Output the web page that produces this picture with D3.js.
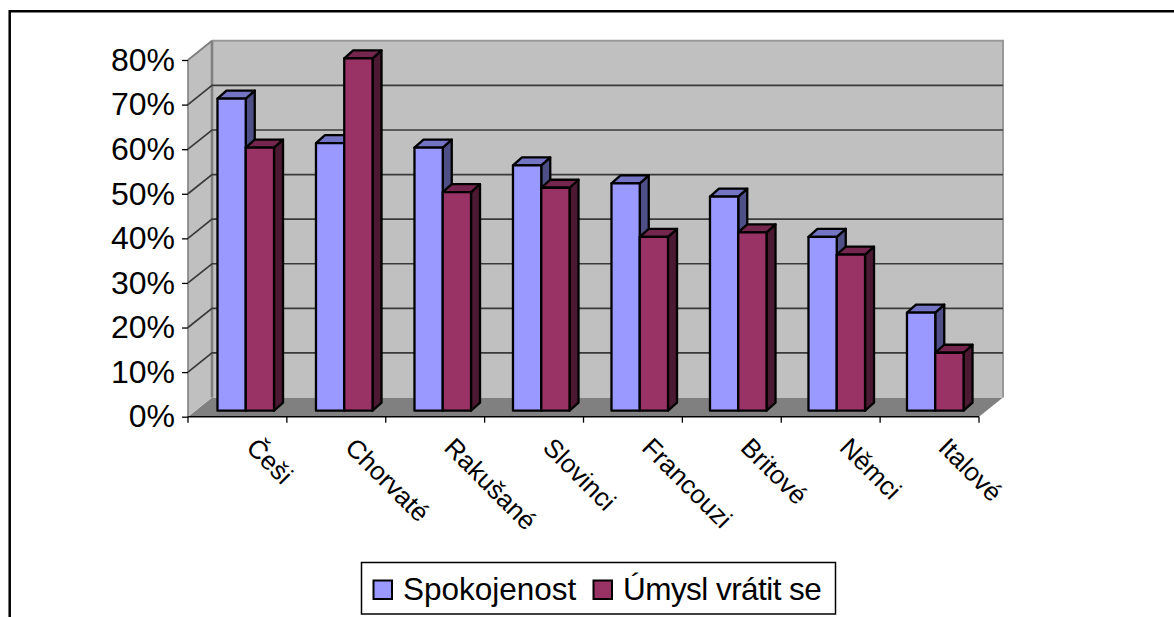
<!DOCTYPE html>
<html>
<head>
<meta charset="utf-8">
<script src="https://cdn.jsdelivr.net/npm/d3@7"></script>
<style>
  html, body { margin: 0; padding: 0; background: #fff; overflow: hidden; }
  svg { display: block; }
  text { font-family: "Liberation Sans", Arial, sans-serif; fill: #000; }
</style>
</head>
<body>
<script>
const categories = ["Češi", "Chorvaté", "Rakušané", "Slovinci", "Francouzi", "Britové", "Němci", "Italové"];
const spokojenost = [70, 60, 59, 55, 51, 48, 39, 22];
const umysl = [59, 79, 49, 50, 39, 40, 35, 13];
const seriesNames = ["Spokojenost", "Úmysl vrátit se"];
const seriesColors = ["#9999ff", "#993366"];
const seriesTops = ["#7474c4", "#74264e"];
const seriesSides = ["#4f4f87", "#4c1933"];
const yTicks = [0, 10, 20, 30, 40, 50, 60, 70, 80];

const W = 1174, H = 617;
const svg = d3.select("body").append("svg").attr("width", W).attr("height", H);

// Frame around the chart area: open on the right and at the bottom
svg.append("path")
  .attr("d", d3.line()([[9.7, H], [9.7, 11.2], [W, 11.2]]))
  .attr("fill", "none").attr("stroke", "#000").attr("stroke-width", 2.5);

// Scales for the front plane and the offset of the back wall
const y = d3.scaleLinear().domain([0, 80]).range([416.7, 60]);
const depth = { dx: 24, dy: -19.2 };
const xAxis = d3.scaleBand().domain(categories).range([188, 979]);

const back = v => y(v) + depth.dy;
const pts = a => a.map(p => p.join(",")).join(" ");

const x0 = xAxis.range()[0], x1 = xAxis.range()[1];
const bx0 = x0 + depth.dx, bx1 = x1 + depth.dx;

// Floor and walls
svg.append("polygon").attr("fill", "#808080")
  .attr("points", pts([[x0, y(0)], [bx0, back(0)], [bx1, back(0)], [x1, y(0)]]));
svg.append("polygon").attr("fill", "#c0c0c0")
  .attr("points", pts([[bx0, back(80)], [bx1, back(80)], [bx1, back(0)], [bx0, back(0)]]));
svg.append("polygon").attr("fill", "#c0c0c0")
  .attr("points", pts([[x0, y(80)], [bx0, back(80)], [bx0, back(0)], [x0, y(0)]]));

// Wall edges
const edge = svg.append("g").attr("fill", "none").attr("stroke", "#808080").attr("stroke-width", 2);
edge.append("path").attr("d", d3.line()([[x0, y(80)], [bx0, back(80)]]));
edge.append("path").attr("d", d3.line()([[bx0, back(80)], [bx1, back(80)], [bx1, back(0)]])).attr("stroke", "#999");
edge.append("path").attr("d", d3.line()([[bx0, back(80)], [bx0, back(0)]])).attr("stroke-width", 2.6);
edge.append("path").attr("d", d3.line()([[x0, y(80)], [x0, y(0)]])).attr("stroke-width", 1.6);

// Gridlines on the side and back walls
svg.append("g").selectAll("path").data(yTicks.filter(t => t > 0 && t < 80)).join("path")
  .attr("d", t => d3.line()([[x0, y(t)], [bx0, back(t)], [bx1, back(t)]]))
  .attr("fill", "none").attr("stroke", "#3a3a3a").attr("stroke-width", 1.7);

// Bars are drawn on a plane set slightly behind the front edge
const barOffset = { dx: 7.5, dy: -6 };
const band = d3.scaleBand().domain(categories).range([196.5, 984.5]).paddingInner(0.426).paddingOuter(0.213);
const inner = d3.scaleBand().domain([0, 1]).range([0, band.bandwidth()]);
const barDepth = { dx: 9, dy: -8 };

[spokojenost, umysl].forEach((values, s) => {
  const g = svg.append("g").attr("stroke", "#000").attr("stroke-width", 2.3).attr("stroke-linejoin", "round");
  categories.forEach((c, i) => {
    const left = band(c) + inner(s), right = left + inner.bandwidth();
    const top = y(values[i]) + barOffset.dy, bottom = y(0) + barOffset.dy;
    g.append("polygon").attr("fill", seriesSides[s]).attr("points", pts([
      [right, top], [right + barDepth.dx, top + barDepth.dy],
      [right + barDepth.dx, bottom + barDepth.dy], [right, bottom]]));
    g.append("polygon").attr("fill", seriesTops[s]).attr("points", pts([
      [left, top], [left + barDepth.dx, top + barDepth.dy],
      [right + barDepth.dx, top + barDepth.dy], [right, top]]));
    g.append("rect").attr("x", left).attr("y", top)
      .attr("width", right - left).attr("height", bottom - top).attr("fill", seriesColors[s]);
  });
});

// Value axis
const yAxisG = svg.append("g").attr("transform", `translate(${x0},0)`)
  .call(d3.axisLeft(y).tickValues(yTicks).tickFormat(d => d + "%").tickSize(6).tickPadding(7));
yAxisG.select(".domain").remove();
yAxisG.selectAll("line").attr("stroke", "#000").attr("stroke-width", 1.3);
yAxisG.selectAll("text").attr("font-size", 32).attr("font-family", '"Liberation Sans", Arial, sans-serif');

// Category axis with slanted labels
const bounds = [...categories.map(c => xAxis(c)), x1];
svg.append("line").attr("x1", x0).attr("x2", x1).attr("y1", y(0)).attr("y2", y(0))
  .attr("stroke", "#000").attr("stroke-width", 1.6);
svg.append("g").selectAll("line").data(bounds).join("line")
  .attr("x1", d => d).attr("x2", d => d).attr("y1", y(0)).attr("y2", y(0) + 6)
  .attr("stroke", "#000").attr("stroke-width", 1.3);
svg.append("g").selectAll("text").data(categories).join("text")
  .attr("font-size", 26)
  .attr("transform", c => `translate(${xAxis(c) + xAxis.bandwidth() / 2 + 7.5},449) rotate(45)`)
  .text(c => c);

// Legend
const legend = svg.append("g");
legend.append("rect").attr("x", 361.5).attr("y", 562.5).attr("width", 474).attr("height", 51.5)
  .attr("fill", "#fff").attr("stroke", "#000").attr("stroke-width", 1.5);
const legendSwatchX = [373.5, 593.5], legendTextX = [403, 623], legendSpacing = [0, -0.55];
seriesNames.forEach((name, s) => {
  legend.append("rect").attr("x", legendSwatchX[s]).attr("y", 580.5).attr("width", 18.5).attr("height", 18.5)
    .attr("fill", seriesColors[s]).attr("stroke", "#000").attr("stroke-width", 2);
  legend.append("text").attr("x", legendTextX[s]).attr("y", 600).attr("font-size", 31.5)
    .attr("letter-spacing", legendSpacing[s]).text(name);
});
</script>
</body>
</html>
